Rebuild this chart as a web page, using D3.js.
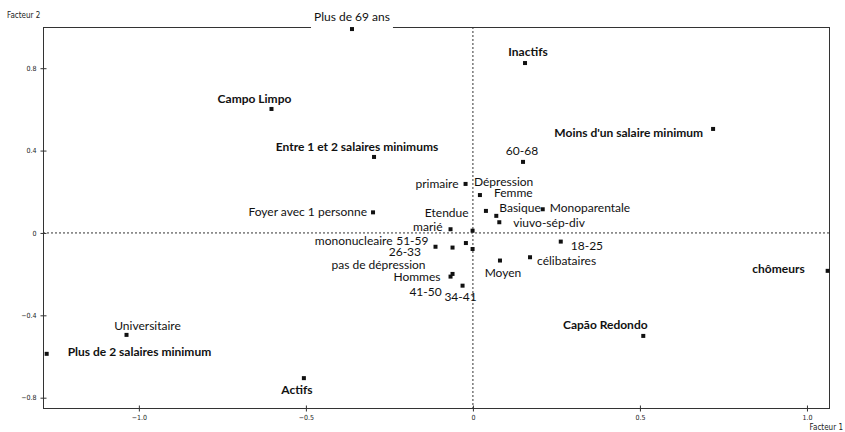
<!DOCTYPE html>
<html>
<head>
<meta charset="utf-8">
<script src="https://cdn.jsdelivr.net/npm/d3@7"></script>
<style>
  body { margin: 0; background: #fff; }
  svg { display: block; }
  .lbl { font-family: Lato, "Open Sans", sans-serif; font-size: 12px; fill: #111; }
  .lbl.bold { font-weight: bold; }
  .tick text { font-family: "DejaVu Sans Condensed", "DejaVu Sans", sans-serif; font-size: 7px; fill: #222; }
  .axis-title { font-family: "DejaVu Sans Condensed", "DejaVu Sans", sans-serif; font-size: 8px; fill: #222; }
</style>
</head>
<body>
<div id="chart"></div>
<script>
// modalities and their coordinates on the two factors
const names = [
  "Plus de 69 ans", "Inactifs", "Campo Limpo", "Moins d'un salaire minimum",
  "Entre 1 et 2 salaires minimums", "60-68", "primaire", "Dépression", "Femme",
  "Basique", "Monoparentale", "viuvo-sép-div", "Etendue", "marié",
  "Foyer avec 1 personne", "18-25", "célibataires", "Moyen", "mononucleaire",
  "51-59", "26-33", "pas de dépression", "Hommes", "41-50", "34-41",
  "chômeurs", "Capão Redondo", "Universitaire", "Plus de 2 salaires minimum", "Actifs",
];
const factor1 = [
  -0.362, 0.156, -0.603, 0.719, -0.296, 0.150, -0.022, 0.021, 0.039,
  0.070, 0.209, 0.079, -0.001, -0.067, -0.299, 0.263, 0.171, 0.081, -0.061,
  -0.112, -0.021, -0.001, -0.067, -0.061, -0.031, 1.062, 0.510, -1.037, -1.276, -0.506,
];
const factor2 = [
  0.990, 0.825, 0.602, 0.505, 0.369, 0.345, 0.238, 0.184, 0.107,
  0.083, 0.115, 0.052, 0.011, 0.018, 0.100, -0.042, -0.118, -0.134, -0.071,
  -0.067, -0.049, -0.078, -0.212, -0.199, -0.256, -0.184, -0.500, -0.495, -0.587, -0.705,
];
const xTicks = [-1.0, -0.5, 0, 0.5, 1.0];
const yTicks = [-0.8, -0.4, 0, 0.4, 0.8];

// label placement relative to the marker: [dx, dy, anchor]
const labelPos = {
  "Plus de 69 ans": [0, -8, "middle"],
  "Inactifs": [3, -7, "middle"],
  "Campo Limpo": [-17, -6, "middle"],
  "Moins d'un salaire minimum": [-10, 8, "end"],
  "Entre 1 et 2 salaires minimums": [-17, -6, "middle"],
  "60-68": [-1, -7, "middle"],
  "primaire": [-7, 4, "end"],
  "Dépression": [-6, -9, "start"],
  "Femme": [8, -14, "start"],
  "Basique": [3, -4, "start"],
  "Monoparentale": [7, 3, "start"],
  "viuvo-sép-div": [14, 5, "start"],
  "Etendue": [-4, -14, "end"],
  "marié": [-8, 2, "end"],
  "Foyer avec 1 personne": [-6, 4, "end"],
  "18-25": [10, 8, "start"],
  "célibataires": [7, 8, "start"],
  "Moyen": [3, 16, "middle"],
  "mononucleaire": [-60, -3, "end"],
  "51-59": [-7, -2, "end"],
  "26-33": [-61, 13, "middle"],
  "pas de dépression": [-47, 20, "end"],
  "Hommes": [-10, 4, "end"],
  "41-50": [-27, 22, "middle"],
  "34-41": [-2, 15, "middle"],
  "chômeurs": [-23, 2, "end"],
  "Capão Redondo": [-38, -7, "middle"],
  "Universitaire": [21, -5, "middle"],
  "Plus de 2 salaires minimum": [21, 2, "start"],
  "Actifs": [-7, 16, "middle"],
};
const boldLabels = new Set([
  "Inactifs", "Campo Limpo", "Moins d'un salaire minimum", "Entre 1 et 2 salaires minimums",
  "chômeurs", "Capão Redondo", "Plus de 2 salaires minimum", "Actifs",
]);
// labels that hide what is drawn under them: extra padding below the text
const maskedLabels = { "Plus de 69 ans": 6, "pas de dépression": 0 };

const width = 845;
const height = 432;
const margin = { top: 27, right: 16, bottom: 24, left: 43 };

const points = names.map((name, i) => ({ name, f1: factor1[i], f2: factor2[i] }));

const x = d3.scaleLinear().domain([-1.287, 1.066]).range([margin.left, width - margin.right]);
const y = d3.scaleLinear().domain([-0.85, 1.0]).range([height - margin.bottom, margin.top]);

const svg = d3.select("#chart").append("svg").attr("width", width).attr("height", height);

const fmt = (d) => (d === 0 ? "0" : d3.format(".1f")(d));

// zero reference lines
svg.append("line")
  .attr("x1", x(0)).attr("x2", x(0))
  .attr("y1", y.range()[1]).attr("y2", y.range()[0])
  .attr("stroke", "#333").attr("stroke-dasharray", "2,2");
svg.append("line")
  .attr("x1", x.range()[0]).attr("x2", x.range()[1])
  .attr("y1", y(0)).attr("y2", y(0))
  .attr("stroke", "#333").attr("stroke-dasharray", "2,2");

// frame
svg.append("rect")
  .attr("x", x.range()[0] + 0.5).attr("y", y.range()[1] + 0.5)
  .attr("width", x.range()[1] - x.range()[0]).attr("height", y.range()[0] - y.range()[1])
  .attr("fill", "none").attr("stroke", "#333");

const xAxis = svg.append("g")
  .attr("transform", `translate(0,${y.range()[0] + 0.5})`)
  .call(d3.axisBottom(x).tickValues(xTicks).tickFormat(fmt).tickSize(3).tickPadding(4));
const yAxis = svg.append("g")
  .attr("transform", `translate(${x.range()[0] + 0.5},0)`)
  .call(d3.axisLeft(y).tickValues(yTicks).tickFormat(fmt).tickSize(3).tickPadding(4));
[xAxis, yAxis].forEach((g) => {
  g.select(".domain").remove();
  g.selectAll(".tick line").attr("stroke", "#333");
});
xAxis.selectAll(".tick line").attr("y1", -3);
yAxis.selectAll(".tick line").attr("x1", 3);

svg.append("text").attr("class", "axis-title")
  .attr("x", 7).attr("y", 18).text("Facteur 2");
svg.append("text").attr("class", "axis-title")
  .attr("x", width - 2).attr("y", 430).attr("text-anchor", "end").text("Facteur 1");

// labels
const labels = svg.selectAll(".lbl-g")
  .data(points)
  .enter()
  .append("g")
  .attr("class", "lbl-g")
  .attr("transform", (d) => {
    const [dx, dy] = labelPos[d.name];
    return `translate(${x(d.f1) + dx},${y(d.f2) + dy})`;
  });

labels.each(function (d) {
  const g = d3.select(this);
  const t = g.append("text")
    .attr("class", boldLabels.has(d.name) ? "lbl bold" : "lbl")
    .attr("text-anchor", labelPos[d.name][2])
    .text(d.name);
  if (d.name in maskedLabels) {
    const b = t.node().getBBox();
    g.insert("rect", "text")
      .attr("x", b.x - 3).attr("y", b.y + 2)
      .attr("width", b.width + 6).attr("height", b.height - 2 + maskedLabels[d.name])
      .attr("fill", "#fff");
  }
});

// markers
svg.selectAll(".pt")
  .data(points)
  .enter()
  .append("rect")
  .attr("class", "pt")
  .attr("x", (d) => x(d.f1) - 2)
  .attr("y", (d) => y(d.f2) - 2)
  .attr("width", 4)
  .attr("height", 4)
  .attr("fill", "#111");
</script>
</body>
</html>
